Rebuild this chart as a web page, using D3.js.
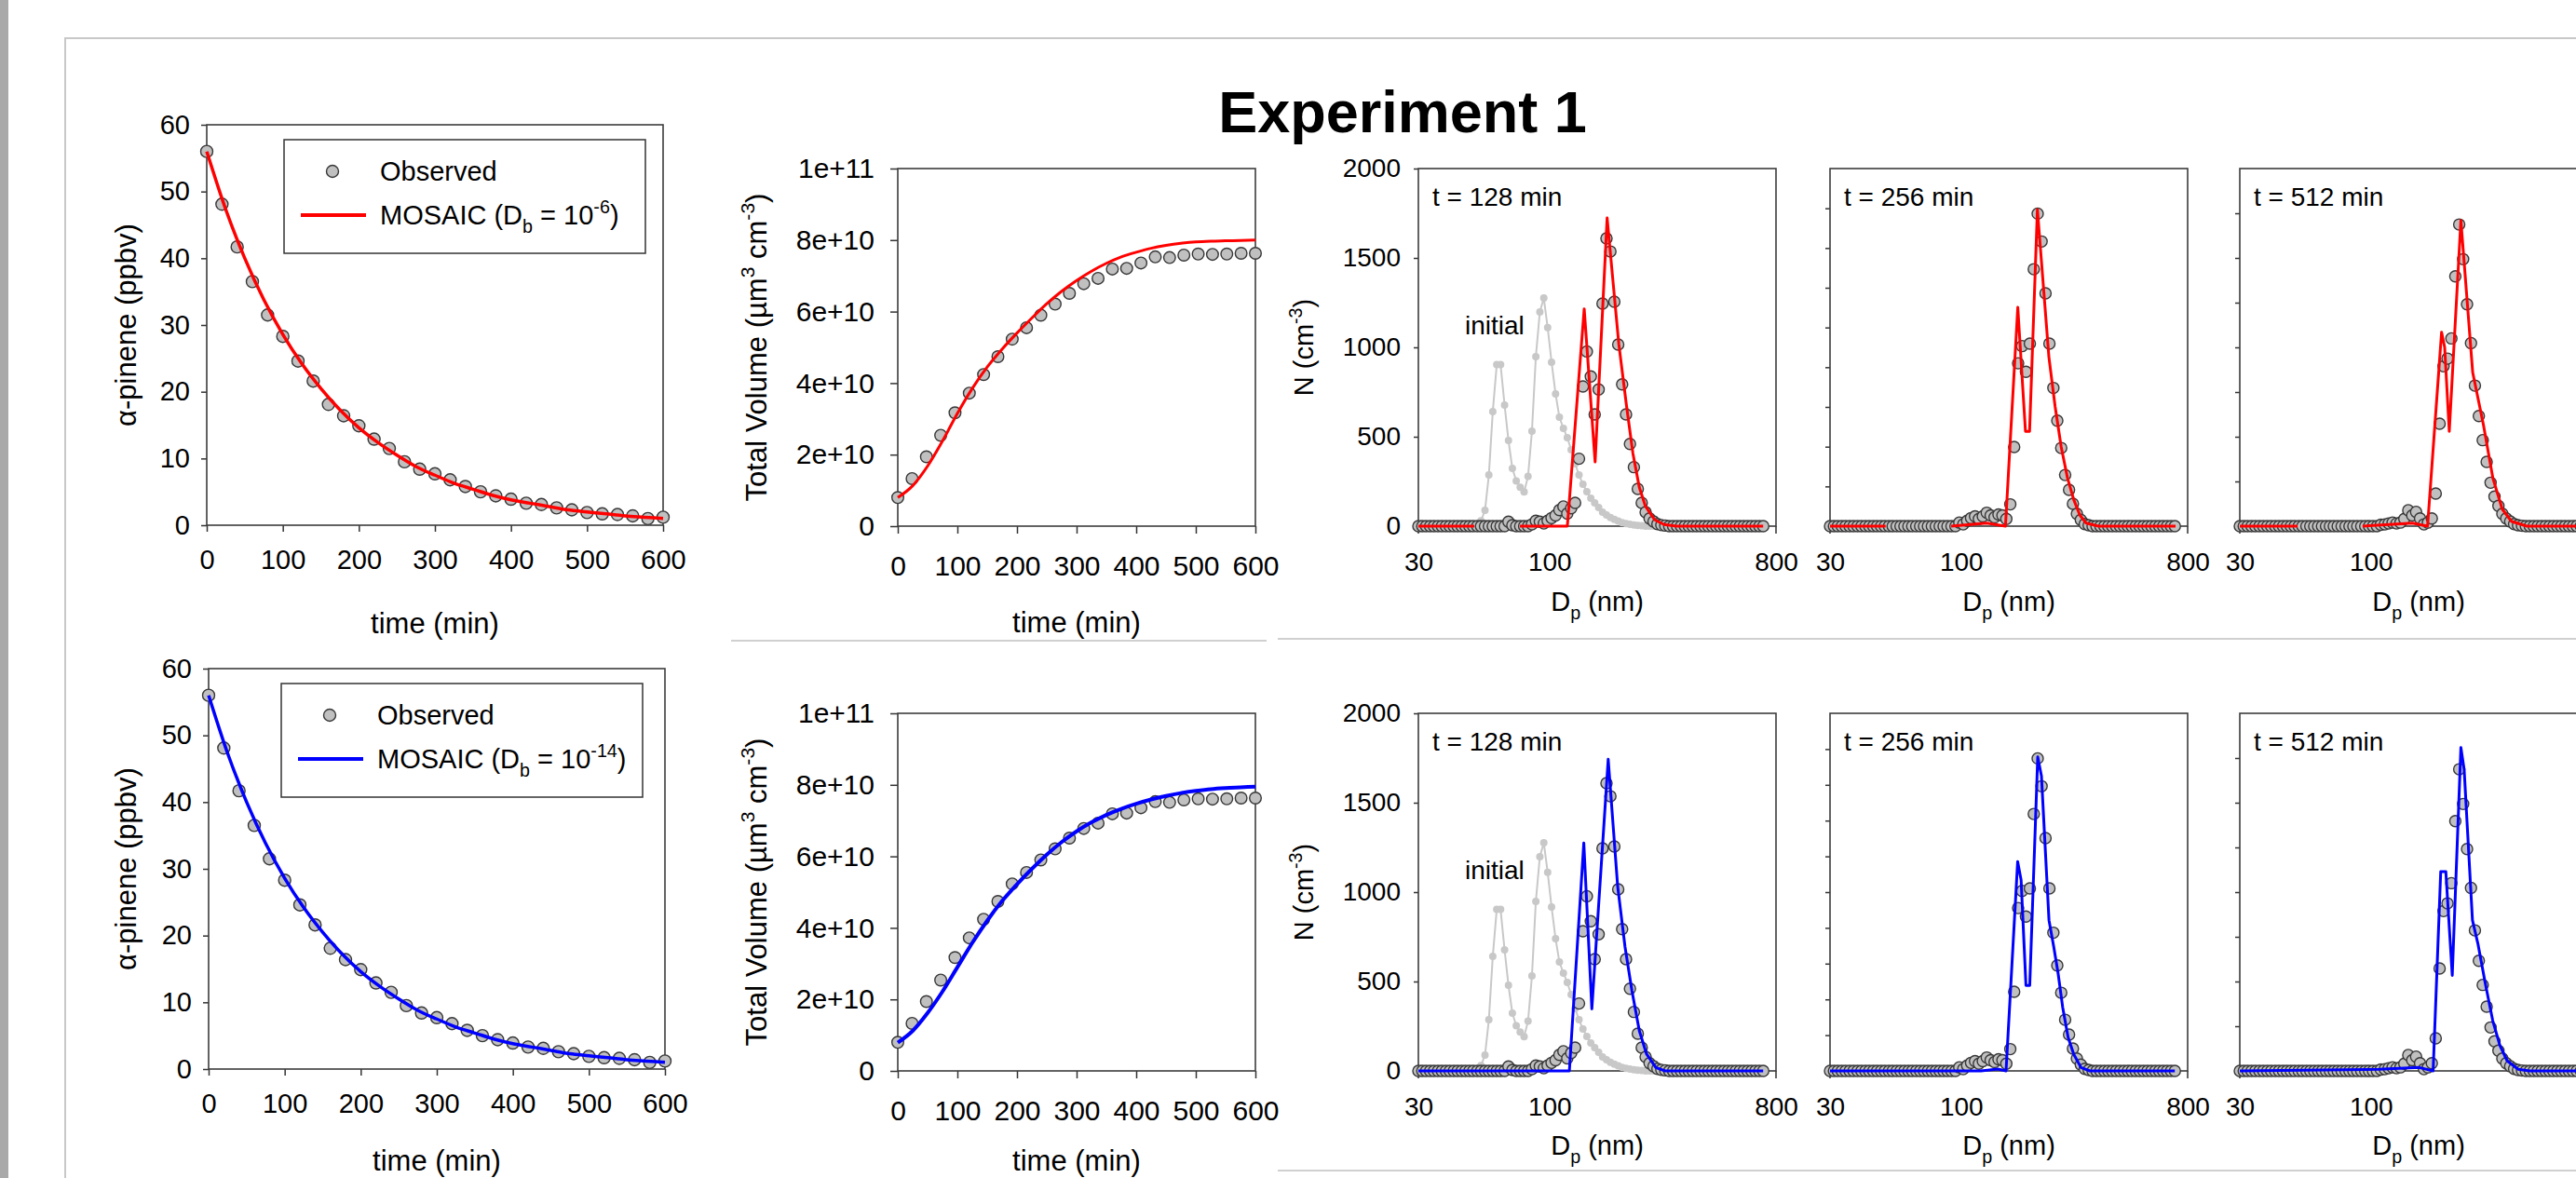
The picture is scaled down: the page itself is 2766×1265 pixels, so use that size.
<!DOCTYPE html>
<html>
<head>
<meta charset="utf-8">
<title>Experiment 1</title>
<script src="https://cdn.jsdelivr.net/npm/d3@7"></script>
<style>
  html, body { margin: 0; padding: 0; background: #fff; }
  svg { display: block; }
</style>
</head>
<body>
<svg id="chart" width="2766" height="1265"></svg>
<script>
// ---- values ----

// alpha-pinene decay (ppbv)
const pineneTime = [0, 20, 40, 60, 80, 100, 120, 140, 160, 180, 200, 220, 240, 260, 280, 300,
  320, 340, 360, 380, 400, 420, 440, 460, 480, 500, 520, 540, 560, 580, 600];
const pineneObserved = [56, 48.1, 41.7, 36.5, 31.5, 28.3, 24.6, 21.6, 18.1, 16.4, 14.9, 12.9, 11.5, 9.5, 8.4, 7.7,
  6.8, 5.8, 5.0, 4.4, 3.9, 3.3, 3.1, 2.6, 2.3, 1.9, 1.7, 1.6, 1.4, 1.0, 1.2];
const modelTime = [0, 25, 50, 75, 100, 125, 150, 175, 200, 225, 250, 275, 300,
  325, 350, 375, 400, 425, 450, 475, 500, 525, 550, 575, 600];
const pineneModel = [56, 47.3, 40.0, 33.8, 28.6, 24.2, 20.5, 17.3, 14.6, 12.4, 10.5, 8.8, 7.5,
  6.3, 5.4, 4.5, 3.8, 3.3, 2.8, 2.3, 2.0, 1.7, 1.4, 1.2, 1.0];

// total volume, in units of 1e10 um3 cm-3
const volumeTime = [0, 24, 48, 72, 96, 120, 144, 168, 192, 216, 240, 264, 288,
  312, 336, 360, 384, 408, 432, 456, 480, 504, 528, 552, 576, 600];
const volumeObserved = [0.80, 1.33, 1.94, 2.54, 3.17, 3.72, 4.24, 4.74, 5.23, 5.55, 5.90, 6.21, 6.51,
  6.78, 6.93, 7.19, 7.21, 7.36, 7.53, 7.51, 7.58, 7.61, 7.60, 7.61, 7.63, 7.63];
const volumeModelDb6 = [0.80, 1.13, 1.68, 2.38, 3.15, 3.85, 4.45, 4.95, 5.40, 5.82, 6.22, 6.57, 6.87,
  7.13, 7.35, 7.53, 7.66, 7.77, 7.85, 7.91, 7.95, 7.97, 7.98, 7.99, 8.00];
const volumeModelDb14 = [0.79, 1.12, 1.62, 2.22, 2.90, 3.58, 4.20, 4.75, 5.22, 5.65, 6.05, 6.40, 6.70,
  6.95, 7.16, 7.33, 7.47, 7.59, 7.69, 7.77, 7.83, 7.88, 7.91, 7.93, 7.95];

// size distributions: SMPS channel diameters (nm)
const diameters = [
  30.0, 31.1, 32.2, 33.4, 34.6, 35.9, 37.2, 38.6, 40.0, 41.5,
  43.0, 44.6, 46.2, 47.9, 49.6, 51.5, 53.3, 55.3, 57.3, 59.4,
  61.6, 63.8, 66.2, 68.6, 71.1, 73.7, 76.4, 79.2, 82.1, 85.1,
  88.2, 91.5, 94.9, 98.3, 101.9, 105.7, 109.5, 113.6, 117.7, 122.0,
  126.5, 131.1, 135.9, 140.9, 146.1, 151.4, 157.0, 162.7, 168.7, 174.9,
  181.3, 187.9, 194.8, 201.9, 209.3, 217.0, 224.9, 233.2, 241.7, 250.6,
  259.8, 269.3, 279.1, 289.4, 300.0, 311.0, 322.4, 334.2, 346.4, 359.1,
  372.3, 385.9, 400.1, 414.7, 429.9, 445.7, 462.0, 478.9, 496.5, 514.7,
  533.5, 553.1, 573.3, 594.3, 616.1, 638.7, 662.1, 686.4, 711.5];
const initialN = [
  0, 0, 0, 0, 0, 0, 0, 0, 0, 0,
  0, 0, 0, 0, 4, 10, 30, 89, 286, 641,
  903, 903, 677, 479, 323, 252, 218, 192, 278, 531,
  948, 1198, 1276, 1111, 917, 740, 609, 547, 495, 427,
  349, 286, 234, 193, 156, 130, 104, 78, 62, 48,
  38, 28, 20, 14, 10, 6, 4, 2, 0, 0,
  0, 0, 0, 0, 0, 0, 0, 0, 0, 0,
  0, 0, 0, 0, 0, 0, 0, 0, 0, 0,
  0, 0, 0, 0, 0, 0, 0, 0, 0];
const observed128 = [
  0, 0, 0, 0, 0, 0, 0, 0, 0, 0,
  0, 0, 0, 0, 0, 0, 0, 0, 0, 0,
  0, 0, 0, 25, 5, 0, 0, 0, 0, 10,
  30, 25, 15, 30, 45, 60, 90, 110, 70, 100,
  130, 377, 781, 977, 837, 625, 764, 1245, 1609, 1536,
  1255, 1016, 793, 625, 460, 330, 208, 130, 78, 43,
  26, 12, 6, 3, 0, 0, 0, 0, 0, 0,
  0, 0, 0, 0, 0, 0, 0, 0, 0, 0,
  0, 0, 0, 0, 0, 0, 0, 0, 0];
const observed256 = [
  0, 0, 0, 0, 0, 0, 0, 0, 0, 0,
  0, 0, 0, 0, 0, 0, 0, 0, 0, 0,
  0, 0, 0, 0, 0, 0, 0, 0, 0, 0,
  0, 0, 0, 20, 10, 30, 45, 55, 40, 55,
  75, 60, 50, 65, 60, 40, 122, 443, 911, 1007,
  863, 1021, 1437, 1748, 1592, 1302, 1021, 773, 590, 437,
  286, 203, 125, 69, 35, 12, 5, 0, 0, 0,
  0, 0, 0, 0, 0, 0, 0, 0, 0, 0,
  0, 0, 0, 0, 0, 0, 0, 0, 0];
const observed512 = [
  0, 0, 0, 0, 0, 0, 0, 0, 0, 0,
  0, 0, 0, 0, 0, 0, 0, 0, 0, 0,
  0, 0, 0, 0, 0, 0, 0, 0, 0, 0,
  0, 0, 0, 0, 0, 0, 8, 10, 15, 20,
  15, 20, 40, 89, 60, 80, 43, 10, 20, 43,
  182, 573, 894, 937, 1050, 1397, 1687, 1493, 1241, 1024,
  786, 616, 481, 359, 243, 165, 113, 69, 43, 26,
  12, 5, 2, 0, 0, 0, 0, 0, 0, 0,
  0, 0, 0, 0, 0, 0, 0, 0, 0];

// MOSAIC size distributions [diameter nm, N]; null = no model value
const modelDb6At128 = [[30, 0], [50.1, 0], [50.2, null], [76.2, 0], [117.8, 0], [137.5, 1215], [152, 359],
  [169.7, 1724], [189, 1016], [203, 668], [215, 408], [228, 217], [241, 113], [263, 35], [286, 9], [320, 0], [711, 0]];
const modelDb6At256 = [[30, 0], [50, 0], [50.1, null], [91.2, 0], [126.5, 17], [150.2, 0], [168.2, 1224],
  [180.5, 530], [187.4, 530], [201.4, 1771], [223.8, 946], [237, 668], [250.6, 443], [265.5, 269],
  [281.2, 148], [297.5, 61], [315, 17], [353, 0], [716, 0]];
const modelDb6At512 = [[30, 0], [51, 0], [51.1, null], [92.6, 0], [146.3, 17], [168.2, 0], [191.3, 1085],
  [196.8, 1000], [205.3, 530], [228.4, 1710], [254.6, 859], [281.2, 564], [306.3, 269], [333.9, 95],
  [363.8, 26], [418.8, 0], [800, 0]];
const modelDb14At128 = [[30, 0], [120, 0], [137, 1275], [147.5, 347], [171.4, 1743], [187, 1031], [200, 694],
  [213, 450], [228, 225], [243.8, 94], [265.5, 19], [289, 0], [711, 0]];
const modelDb14At256 = [[30, 0], [120, 0], [140, 10], [151, 0], [168, 1171], [173.4, 1068], [181.3, 478],
  [187.7, 478], [202, 1756], [209, 1650], [224, 843], [234, 694], [243.6, 544], [254, 356], [267, 187],
  [281, 94], [300.5, 19], [326, 0], [711, 0]];
const modelDb14At512 = [[30, 0], [107.7, 9], [156, 19], [177, 0], [189.8, 1115], [198.9, 1115], [211, 534],
  [228.4, 1809], [235.3, 1687], [254, 843], [267, 712], [286, 487], [306, 281], [327, 141], [349.5, 56],
  [386.6, 9], [428, 0], [800, 0]];

// axis ticks
const timeTicks = [0, 100, 200, 300, 400, 500, 600];
const pineneTicks = [0, 10, 20, 30, 40, 50, 60];
const volumeTicks = [0, 2, 4, 6, 8, 10];
const volumeTickLabels = ["0", "2e+10", "4e+10", "6e+10", "8e+10", "1e+11"];
const sizeTicks = [30, 100, 800];
const countTicks = [0, 500, 1000, 1500, 2000];
const countTicksTop256 = [222.2, 444.4, 666.7, 888.9, 1111.1, 1333.3, 1555.6, 1777.8];
const countTicksBottom256 = [200, 400, 600, 800, 1000, 1200, 1400, 1600, 1800];
const countTicks512 = [250, 500, 750, 1000, 1250, 1500, 1750];

// ---- drawing ----
const W = 2766, H = 1265;
const FONT = "Arial, 'Liberation Sans', sans-serif";
const svg = d3.select("#chart").attr("font-family", FONT);

function tidy(a, size) {
  a.select(".domain").remove();
  a.selectAll(".tick line").attr("stroke", "#333").attr("stroke-width", 1.5);
  a.selectAll(".tick text").attr("font-size", size).attr("fill", "#000");
}

function box(g, xr, yr) {
  g.append("rect")
    .attr("x", xr[0]).attr("y", yr[1])
    .attr("width", xr[1] - xr[0]).attr("height", yr[0] - yr[1])
    .attr("fill", "none").attr("stroke", "#3c3c3c").attr("stroke-width", 1.6);
}

// text with sub/superscript parts: [text, "sub"|"sup"|undefined]
function rich(t, parts, size) {
  let cur = 0;
  parts.forEach(([s, kind]) => {
    const off = kind === "sub" ? size * 0.3 : kind === "sup" ? -size * 0.42 : 0;
    t.append("tspan").attr("dy", off - cur).attr("font-size", kind ? size * 0.68 : size).text(s);
    cur = off;
  });
  return t;
}

function marker(sel, r) {
  sel.attr("r", r).attr("fill", "#c0c0c0").attr("stroke", "#383838").attr("stroke-width", 1.4);
}

// page decoration
svg.append("rect").attr("x", 0).attr("y", 0).attr("width", 9).attr("height", H).attr("fill", "#a9a9a9");
svg.append("path").attr("d", `M70,${H}V41H${W}`).attr("fill", "none")
  .attr("stroke", "#c8c8c8").attr("stroke-width", 2);
[[785, 1360, 688], [1372, W, 686], [1372, W, 1257]].forEach(([a, b, yy]) => {
  svg.append("line").attr("x1", a).attr("x2", b).attr("y1", yy).attr("y2", yy)
    .attr("stroke", "#d0d0d0").attr("stroke-width", 2);
});

svg.append("text").attr("x", 1506).attr("y", 142).attr("text-anchor", "middle")
  .attr("font-size", 63).attr("font-weight", "bold").text("Experiment 1");

function pinenePanel(p) {
  const x = d3.scaleLinear().domain([0, 600]).range([p.left, p.left + 490]);
  const y = d3.scaleLinear().domain([0, 60]).range([p.top + 430, p.top]);
  const g = svg.append("g");

  g.append("g").attr("transform", `translate(0,${p.top + 430})`)
    .call(d3.axisBottom(x).tickValues(timeTicks).tickSize(7).tickPadding(19))
    .call(tidy, 29);
  g.append("g").attr("transform", `translate(${p.left},0)`)
    .call(d3.axisLeft(y).tickValues(pineneTicks).tickSize(6).tickPadding(12))
    .call(tidy, 29);
  box(g, x.range(), y.range());

  g.selectAll("circle.obs").data(pineneTime).join("circle").attr("class", "obs")
    .attr("cx", d => x(d)).attr("cy", (d, i) => y(pineneObserved[i])).call(marker, 6.5);

  g.append("path").datum(modelTime.map((t, i) => [t, pineneModel[i]]))
    .attr("d", d3.line().x(d => x(d[0])).y(d => y(d[1])).curve(d3.curveMonotoneX))
    .attr("fill", "none").attr("stroke", p.color).attr("stroke-width", 3.5);

  // legend
  const lx = p.legendX, ty = p.top;
  g.append("rect").attr("x", lx).attr("y", ty + 16).attr("width", 388).attr("height", 122)
    .attr("fill", "#fff").attr("stroke", "#333").attr("stroke-width", 1.5);
  g.append("circle").attr("cx", lx + 52).attr("cy", ty + 50).call(marker, 6.5);
  g.append("line").attr("x1", lx + 18).attr("x2", lx + 88).attr("y1", ty + 97).attr("y2", ty + 97)
    .attr("stroke", p.color).attr("stroke-width", 4);
  g.append("text").attr("x", lx + 103).attr("y", ty + 60).attr("font-size", 29).text("Observed");
  rich(g.append("text").attr("x", lx + 103).attr("y", ty + 107),
    [["MOSAIC (D"], ["b", "sub"], [" = 10"], [p.expo, "sup"], [")"]], 29);

  g.append("text").attr("x", p.left + 245).attr("y", p.labelY)
    .attr("text-anchor", "middle").attr("font-size", 31).text("time (min)");
  g.append("text").attr("transform", `translate(146,${p.top + 215}) rotate(-90)`)
    .attr("text-anchor", "middle").attr("font-size", 31).text("\u03b1-pinene (ppbv)");
}

function volumePanel(p) {
  const x = d3.scaleLinear().domain([0, 600]).range([964, 1348]);
  const y = d3.scaleLinear().domain([0, 10]).range([p.top + 384, p.top]);
  const g = svg.append("g");

  g.append("g").attr("transform", `translate(0,${p.top + 384})`)
    .call(d3.axisBottom(x).tickValues(timeTicks).tickSize(8).tickPadding(24))
    .call(tidy, 30);
  g.append("g").attr("transform", "translate(964,0)")
    .call(d3.axisLeft(y).tickValues(volumeTicks).tickSize(8).tickPadding(17)
      .tickFormat((d, i) => volumeTickLabels[i]))
    .call(tidy, 30);
  box(g, x.range(), y.range());

  g.selectAll("circle.obs").data(volumeTime).join("circle").attr("class", "obs")
    .attr("cx", d => x(d)).attr("cy", (d, i) => y(volumeObserved[i])).call(marker, 6.3);

  g.append("path").datum(modelTime.map((t, i) => [t, p.model[i]]))
    .attr("d", d3.line().x(d => x(d[0])).y(d => y(d[1])).curve(d3.curveMonotoneX))
    .attr("fill", "none").attr("stroke", p.color).attr("stroke-width", p.width);

  g.append("text").attr("x", 1156).attr("y", p.labelY)
    .attr("text-anchor", "middle").attr("font-size", 31).text("time (min)");
  rich(g.append("text").attr("transform", `translate(823,${p.top + 192}) rotate(-90)`)
    .attr("text-anchor", "middle"),
    [["Total Volume (\u00b5m"], ["3", "sup"], [" cm"], ["-3", "sup"], [")"]], 31);
}

function sizePanel(p) {
  const x = d3.scaleLog().domain([30, 800]).range([p.left, p.left + 384]);
  const y = d3.scaleLinear().domain([0, 2000]).range([p.top + 384, p.top]);
  const g = svg.append("g");
  const base = p.top + 384;

  g.append("g").attr("transform", `translate(${p.left},0)`)
    .call(d3.axisLeft(y).tickValues(p.yTicks).tickSize(5).tickPadding(14)
      .tickFormat(p.yLabels ? d3.format("d") : () => ""))
    .call(tidy, 28);
  // only the size labels that fall on the page
  g.append("g").attr("transform", `translate(0,${base})`)
    .call(d3.axisBottom(x).tickValues(sizeTicks.filter(v => x(v) < W - 20))
      .tickSize(0).tickPadding(28).tickFormat(d3.format("d")))
    .call(tidy, 28);
  [30, 800].forEach(v => {
    g.append("line").attr("x1", x(v)).attr("x2", x(v)).attr("y1", base).attr("y2", base + 8)
      .attr("stroke", "#3c3c3c").attr("stroke-width", 1.6);
  });
  box(g, x.range(), y.range());

  if (p.initial) {
    g.append("path").datum(diameters)
      .attr("d", d3.line().x(d => x(d)).y((d, i) => y(initialN[i])))
      .attr("fill", "none").attr("stroke", "#c8c8c8").attr("stroke-width", 2);
    g.selectAll("circle.ini").data(diameters).join("circle").attr("class", "ini")
      .attr("cx", d => x(d)).attr("cy", (d, i) => y(initialN[i])).attr("r", 4)
      .attr("fill", "#c8c8c8");
    g.append("text").attr("x", p.left + 50).attr("y", p.top + 178).attr("font-size", 28).text("initial");
  }

  g.selectAll("circle.obs").data(diameters).join("circle").attr("class", "obs")
    .attr("cx", d => x(d)).attr("cy", (d, i) => y(p.obs[i])).call(marker, 6);

  g.append("path").datum(p.model)
    .attr("d", d3.line().defined(d => d[1] !== null).x(d => x(d[0])).y(d => y(d[1])))
    .attr("fill", "none").attr("stroke", p.color).attr("stroke-width", 3)
    .attr("stroke-linejoin", "round");

  g.append("text").attr("x", p.left + 15).attr("y", p.top + 40).attr("font-size", 28).text(p.label);
  rich(g.append("text").attr("x", p.left + 192).attr("y", p.labelY).attr("text-anchor", "middle"),
    [["D"], ["p", "sub"], [" (nm)"]], 29);
  if (p.yLabels) {
    rich(g.append("text").attr("transform", `translate(1410,${p.top + 192}) rotate(-90)`)
      .attr("text-anchor", "middle"),
      [["N (cm"], ["-3", "sup"], [")"]], 29);
  }
}

// top row: Db = 1e-6 (red)
pinenePanel({ left: 222, top: 134, color: "#ff0000", expo: "-6", legendX: 305, labelY: 680 });
volumePanel({ top: 181, color: "#ff0000", model: volumeModelDb6, width: 3, labelY: 679 });
sizePanel({ left: 1523, top: 181, obs: observed128, model: modelDb6At128, color: "#ff0000",
  yTicks: countTicks, yLabels: true, initial: true, label: "t = 128 min", labelY: 656 });
sizePanel({ left: 1965, top: 181, obs: observed256, model: modelDb6At256, color: "#ff0000",
  yTicks: countTicksTop256, yLabels: false, initial: false, label: "t = 256 min", labelY: 656 });
sizePanel({ left: 2405, top: 181, obs: observed512, model: modelDb6At512, color: "#ff0000",
  yTicks: countTicks512, yLabels: false, initial: false, label: "t = 512 min", labelY: 656 });

// bottom row: Db = 1e-14 (blue)
pinenePanel({ left: 224, top: 718, color: "#0000ff", expo: "-14", legendX: 302, labelY: 1257 });
volumePanel({ top: 766, color: "#0000ff", model: volumeModelDb14, width: 4, labelY: 1257 });
sizePanel({ left: 1523, top: 766, obs: observed128, model: modelDb14At128, color: "#0000ff",
  yTicks: countTicks, yLabels: true, initial: true, label: "t = 128 min", labelY: 1240 });
sizePanel({ left: 1965, top: 766, obs: observed256, model: modelDb14At256, color: "#0000ff",
  yTicks: countTicksBottom256, yLabels: false, initial: false, label: "t = 256 min", labelY: 1240 });
sizePanel({ left: 2405, top: 766, obs: observed512, model: modelDb14At512, color: "#0000ff",
  yTicks: countTicks512, yLabels: false, initial: false, label: "t = 512 min", labelY: 1240 });
</script>
</body>
</html>
